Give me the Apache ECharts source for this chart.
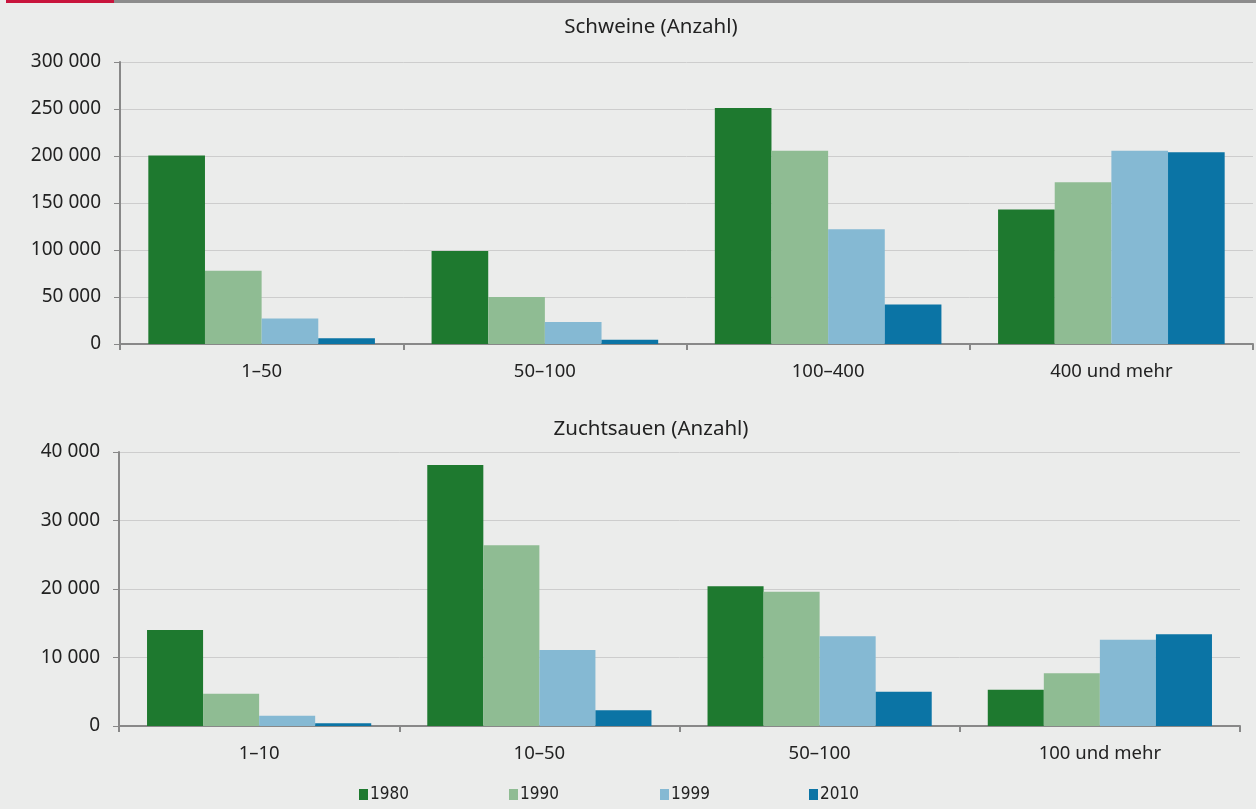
<!DOCTYPE html>
<html><head><meta charset="utf-8">
<script src="https://cdn.jsdelivr.net/npm/echarts@6/dist/echarts.min.js"></script>
<style>html,body{margin:0;padding:0;background:#ebeceb;}#c{width:1256px;height:809px;}
.bar1{position:absolute;left:6px;top:0;width:108px;height:3px;background:#c8143c;}
.bar2{position:absolute;left:114px;top:0;width:1142px;height:3px;background:#8c8c8c;}</style>
</head><body>
<div class="bar1"></div><div class="bar2"></div>
<div id="c"></div>
<script>
const years = ['1980', '1990', '1999', '2010'];
const colors = ['#1e792f', '#8fbc93', '#85b9d3', '#0b74a5'];
const pigCats = ['1–50', '50–100', '100–400', '400 und mehr'];
const pig1980 = [200500, 99000, 251000, 143000];
const pig1990 = [78000, 50000, 205500, 172000];
const pig1999 = [27000, 23500, 122000, 205500];
const pig2010 = [6000, 4500, 42000, 204000];
const sowCats = ['1–10', '10–50', '50–100', '100 und mehr'];
const sow1980 = [14000, 38100, 20400, 5300];
const sow1990 = [4700, 26400, 19600, 7700];
const sow1999 = [1500, 11100, 13100, 12600];
const sow2010 = [400, 2300, 5000, 13400];
const pigTicks = {min: 0, max: 300000, interval: 50000};
const sowTicks = {min: 0, max: 40000, interval: 10000};

const pigData = [pig1980, pig1990, pig1999, pig2010];
const sowData = [sow1980, sow1990, sow1999, sow2010];
const font = '"Noto Sans", "Open Sans", sans-serif';
const narrow = '"DejaVu Sans Condensed", "Noto Sans", sans-serif';
const fmt = v => String(v).replace(/\B(?=(\d{3})+(?!\d))/g, ' ');

function yAx(idx, t) {
  return {gridIndex: idx, type: 'value', min: t.min, max: t.max, interval: t.interval,
    axisLine: {show: true, lineStyle: {color: '#888', width: 2}},
    axisTick: {show: true, length: 6, lineStyle: {color: '#888', width: 1}},
    splitLine: {lineStyle: {color: '#cdcdcd', width: 1}},
    axisLabel: {formatter: fmt, color: '#222', fontSize: 19, fontFamily: font, margin: 19}};
}
function xAx(idx, cats) {
  return {gridIndex: idx, type: 'category', data: cats,
    axisLine: {lineStyle: {color: '#888', width: 2}},
    axisTick: {show: true, length: 6, lineStyle: {color: '#888', width: 2}},
    axisLabel: {color: '#222', fontSize: 18.5, fontFamily: font, margin: 18}};
}
const series = [];
years.forEach((y, i) => {
  series.push({name: y, type: 'bar', xAxisIndex: 0, yAxisIndex: 0, data: pigData[i],
    itemStyle: {color: colors[i]}, barGap: '0%', barCategoryGap: '20%'});
});
years.forEach((y, i) => {
  series.push({name: y, type: 'bar', xAxisIndex: 1, yAxisIndex: 1, data: sowData[i],
    itemStyle: {color: colors[i]}, barGap: '0%', barCategoryGap: '20%'});
});
const legendLeft = [354, 504, 655, 804];
const chart = echarts.init(document.getElementById('c'));
chart.setOption({
  backgroundColor: 'transparent',
  animation: false,
  title: [
    {text: 'Schweine (Anzahl)', left: 646, top: 12, textAlign: 'center',
     textStyle: {fontSize: 20.5, fontWeight: 'normal', color: '#222', fontFamily: font}},
    {text: 'Zuchtsauen (Anzahl)', left: 646, top: 414, textAlign: 'center',
     textStyle: {fontSize: 20.5, fontWeight: 'normal', color: '#222', fontFamily: font}}
  ],
  grid: [
    {left: 120, right: 3, top: 62, height: 282},
    {left: 119, right: 16, top: 452, height: 274}
  ],
  xAxis: [xAx(0, pigCats), xAx(1, sowCats)],
  yAxis: [yAx(0, pigTicks), yAx(1, sowTicks)],
  legend: years.map((y, i) => ({data: [y], left: legendLeft[i], top: 781, itemWidth: 9, itemHeight: 11,
    itemGap: 4, icon: 'rect', textStyle: {fontSize: 17, color: '#222', fontFamily: narrow, padding: [0, 0, 0, -3]}})),
  series: series
});
</script>
</body></html>
